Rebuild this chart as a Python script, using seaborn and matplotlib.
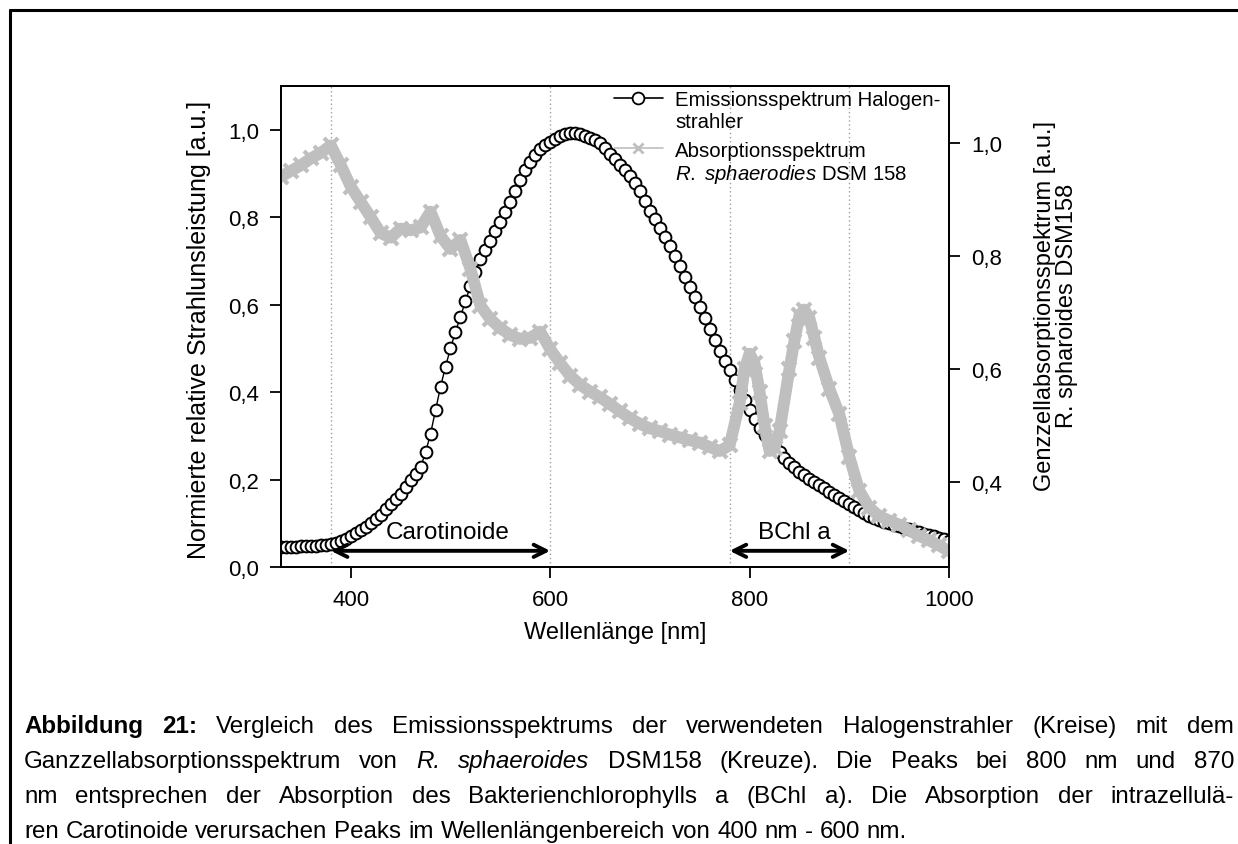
import numpy as np
import pandas as pd
import matplotlib
matplotlib.use("Agg")
import matplotlib.pyplot as plt
import seaborn as sns
from matplotlib.lines import Line2D

# ---------------- data ----------------
# emission spectrum of the halogen lamp, sampled every 5 nm from 330 to 1000 nm
emis_nm = np.arange(330, 1001, 5)
emis_val = [0.045, 0.045, 0.046, 0.046, 0.047, 0.047, 0.048, 0.049, 0.050, 0.051,
            0.052, 0.055, 0.060, 0.065, 0.071, 0.078, 0.085, 0.092, 0.100, 0.110,
            0.120, 0.132, 0.145, 0.156, 0.168, 0.182, 0.198, 0.212, 0.228, 0.262,
            0.305, 0.358, 0.412, 0.458, 0.500, 0.538, 0.572, 0.608, 0.643, 0.675,
            0.705, 0.726, 0.745, 0.768, 0.790, 0.812, 0.835, 0.860, 0.885, 0.907,
            0.927, 0.942, 0.955, 0.964, 0.972, 0.979, 0.985, 0.990, 0.993, 0.992,
            0.990, 0.986, 0.982, 0.976, 0.970, 0.958, 0.945, 0.933, 0.920, 0.908,
            0.895, 0.878, 0.860, 0.838, 0.815, 0.795, 0.775, 0.755, 0.735, 0.712,
            0.688, 0.664, 0.640, 0.618, 0.595, 0.570, 0.545, 0.520, 0.495, 0.472,
            0.450, 0.428, 0.405, 0.382, 0.360, 0.338, 0.318, 0.302, 0.288, 0.275,
            0.262, 0.250, 0.238, 0.228, 0.218, 0.210, 0.202, 0.194, 0.187, 0.180,
            0.172, 0.165, 0.158, 0.152, 0.145, 0.137, 0.130, 0.123, 0.117, 0.112,
            0.108, 0.104, 0.100, 0.097, 0.094, 0.090, 0.087, 0.083, 0.080, 0.076,
            0.073, 0.070, 0.066, 0.063, 0.060]

abs_nm = [330, 340, 350, 360, 370, 380, 390, 400, 410, 420, 430, 440, 450, 460,
          470, 480, 490, 500, 510, 520, 530, 540, 550, 560, 570, 580, 590, 600,
          610, 620, 630, 640, 650, 660, 670, 680, 690, 700, 710, 720, 730, 740,
          750, 760, 770, 780, 790, 795, 800, 805, 810, 815, 820, 825, 830, 840,
          845, 850, 855, 860, 865, 870, 880, 890, 900, 910, 920, 930, 940, 950,
          960, 970, 980, 990, 1000]
abs_val = [0.940, 0.950, 0.960, 0.972, 0.982, 0.995, 0.960, 0.922, 0.895, 0.868,
           0.840, 0.832, 0.848, 0.845, 0.850, 0.878, 0.835, 0.812, 0.828, 0.777,
           0.712, 0.688, 0.672, 0.660, 0.653, 0.655, 0.666, 0.635, 0.610, 0.588,
           0.572, 0.560, 0.550, 0.538, 0.525, 0.513, 0.503, 0.495, 0.490, 0.484,
           0.479, 0.474, 0.470, 0.462, 0.455, 0.465, 0.540, 0.600, 0.627, 0.610,
           0.560, 0.500, 0.455, 0.460, 0.490, 0.600, 0.650, 0.695, 0.705, 0.690,
           0.655, 0.620, 0.565, 0.520, 0.445, 0.385, 0.355, 0.340, 0.332, 0.325,
           0.315, 0.305, 0.297, 0.288, 0.278]

region_bounds = [380, 600, 780, 900]
regions = [("Carotinoide", 380, 600, 497), ("BChl a", 780, 900, 845)]

left_ticks = [0.0, 0.2, 0.4, 0.6, 0.8, 1.0]
left_labels = ["0,0", "0,2", "0,4", "0,6", "0,8", "1,0"]
right_ticks = [0.4, 0.6, 0.8, 1.0]
right_labels = ["0,4", "0,6", "0,8", "1,0"]
x_ticks = [400, 600, 800, 1000]
x_labels = ["400", "600", "800", "1000"]

assert len(emis_nm) == len(emis_val)
assert len(abs_nm) == len(abs_val)
emis_df = pd.DataFrame({"nm": emis_nm, "val": emis_val})
abs_df = pd.DataFrame({"nm": abs_nm, "val": abs_val})

# ---------------- style ----------------
sns.set_theme(style="white")
plt.rcParams["font.family"] = ["Liberation Sans", "DejaVu Sans"]
plt.rcParams["mathtext.fontset"] = "custom"
plt.rcParams["mathtext.rm"] = "Liberation Sans"
plt.rcParams["mathtext.it"] = "Liberation Sans:italic"
plt.rcParams["mathtext.bf"] = "Liberation Sans:bold"

W, H = 1238, 845
fig = plt.figure(figsize=(W / 100, H / 100), dpi=100)
fig.patch.set_facecolor("white")

ax = fig.add_axes([281 / W, 1 - 568 / H, (949 - 281) / W, (568 - 87) / H])
ax2 = ax.twinx()

GRAY = "#bfbfbf"

for b in region_bounds:
    ax.axvline(b, color="#a0a0a0", ls=(0, (1, 2)), lw=1.0, zorder=0)

sns.lineplot(data=emis_df, x="nm", y="val", ax=ax, color="black", lw=1.0,
             marker="o", markersize=8.5, markerfacecolor="white",
             markeredgecolor="black", markeredgewidth=1.4, legend=False, zorder=3)
sns.lineplot(data=abs_df, x="nm", y="val", ax=ax2, color=GRAY, lw=8.5,
             marker="x", markersize=10, markeredgecolor=GRAY,
             markeredgewidth=3, legend=False, zorder=2)

ax.set_xlim(330, 1000)
ax.set_ylim(0, 1.1)
ax2.set_ylim(0.25, 1.10)

ax.set_xticks(x_ticks)
ax.set_xticklabels(x_labels)
ax.set_yticks(left_ticks)
ax.set_yticklabels(left_labels)
ax2.set_yticks(right_ticks)
ax2.set_yticklabels(right_labels)

for a in (ax, ax2):
    for s in a.spines.values():
        s.set_color("black")
        s.set_linewidth(1.3)
ax.tick_params(axis="both", which="both", direction="out", length=8, width=1.3,
               labelsize=16, colors="black", bottom=True, left=True, pad=8)
ax2.tick_params(axis="y", direction="out", length=8, width=1.3, labelsize=16,
                colors="black", right=True, left=False, pad=8)

ax.set_xlabel("Wellenlänge [nm]", fontsize=17, color="black")
ax.xaxis.set_label_coords(0.5, -0.112)
ax.set_ylabel("Normierte relative Strahlunsleistung [a.u.]", fontsize=18,
              color="black")
ax.yaxis.set_label_coords(-0.105, 0.495)
ax2.set_ylabel("Genzzellabsorptionsspektrum [a.u.]\nR. spharoides DSM158",
               fontsize=17, color="black", linespacing=1.0)
ax2.yaxis.set_label_coords(1.127, 0.545)

# region arrows
for label, x0, x1, xt in regions:
    ax.annotate("", xy=(x1, 0.037), xytext=(x0, 0.037),
                arrowprops=dict(arrowstyle="<->", lw=2.8, color="black",
                                mutation_scale=22, shrinkA=0, shrinkB=0),
                zorder=5)
    ax.text(xt, 0.08, label, ha="center", va="center", fontsize=17.5,
            color="black", zorder=5)

# legends (two blocks so that the handle sits on the first text line)
h_em = Line2D([], [], color="black", lw=1.2, marker="o", ms=8.5, mfc="white",
              mec="black", mew=1.3)
h_ab = Line2D([], [], color=GRAY, lw=1.2, marker="x", ms=7, mec=GRAY, mew=2)
blank = Line2D([], [], ls="none")
leg_kw = dict(loc="upper left", frameon=False, fontsize=14.7, handlelength=2.4,
              handletextpad=0.6, labelspacing=0.14, borderaxespad=0.0,
              borderpad=0.2)
leg1 = ax2.legend([h_em, blank], ["Emissionsspektrum Halogen-", "strahler"],
                  bbox_to_anchor=(0.492, 1.0), **leg_kw)
ax2.add_artist(leg1)
leg2 = ax2.legend([h_ab, blank],
                  ["Absorptionsspektrum", r"$\mathit{R.\ sphaerodies}$ DSM 158"],
                  bbox_to_anchor=(0.492, 0.895), **leg_kw)
for lg in (leg1, leg2):
    for t in lg.get_texts():
        t.set_color("black")

# figure border (left and top)
fig.add_artist(Line2D([10 / W, 10 / W], [1 - 11 / H, 0], transform=fig.transFigure,
                      color="black", lw=2.2))
fig.add_artist(Line2D([10 / W, 1], [1 - 11 / H, 1 - 11 / H],
                      transform=fig.transFigure, color="black", lw=2.2))

# caption (justified)
CAP_FS = 17.4
caption_lines = [
    [("Abbildung 21:", "bold", "normal"),
     ("Vergleich des Emissionsspektrums der verwendeten Halogenstrahler (Kreise) mit dem",
      "normal", "normal")],
    [("Ganzzellabsorptionsspektrum von", "normal", "normal"),
     ("R. sphaeroides", "normal", "italic"),
     ("DSM158 (Kreuze). Die Peaks bei 800 nm und 870", "normal", "normal")],
    [("nm entsprechen der Absorption des Bakterienchlorophylls a (BChl a). Die Absorption der intrazellulä-",
      "normal", "normal")],
    [("ren Carotinoide verursachen Peaks im Wellenlängenbereich von 400 nm - 600 nm.",
      "normal", "normal")],
]
line_centers = [727, 762, 797, 832]
x_left, x_right = 24, 1234
renderer = fig.canvas.get_renderer()
for li, (segs, yc) in enumerate(zip(caption_lines, line_centers)):
    ybase = 1 - (yc + 6) / H
    words = []
    for txt, wt, st in segs:
        for w in txt.split(" "):
            words.append((w, wt, st))
    arts = []
    for w, wt, st in words:
        t = fig.text(0, ybase, w, fontsize=CAP_FS, fontweight=wt, fontstyle=st,
                     ha="left", va="baseline", color="black")
        arts.append(t)
    widths = [t.get_window_extent(renderer).width for t in arts]
    if li < len(caption_lines) - 1:
        gap = (x_right - x_left - sum(widths)) / (len(words) - 1)
    else:
        sp = fig.text(0, 0, "a a", fontsize=CAP_FS)
        sp2 = fig.text(0, 0, "aa", fontsize=CAP_FS)
        gap = sp.get_window_extent(renderer).width - sp2.get_window_extent(renderer).width
        sp.remove(); sp2.remove()
    x = x_left
    for t, wdt in zip(arts, widths):
        t.set_x(x / W)
        x += wdt + gap

fig.savefig("out.png", dpi=100, facecolor="white")
